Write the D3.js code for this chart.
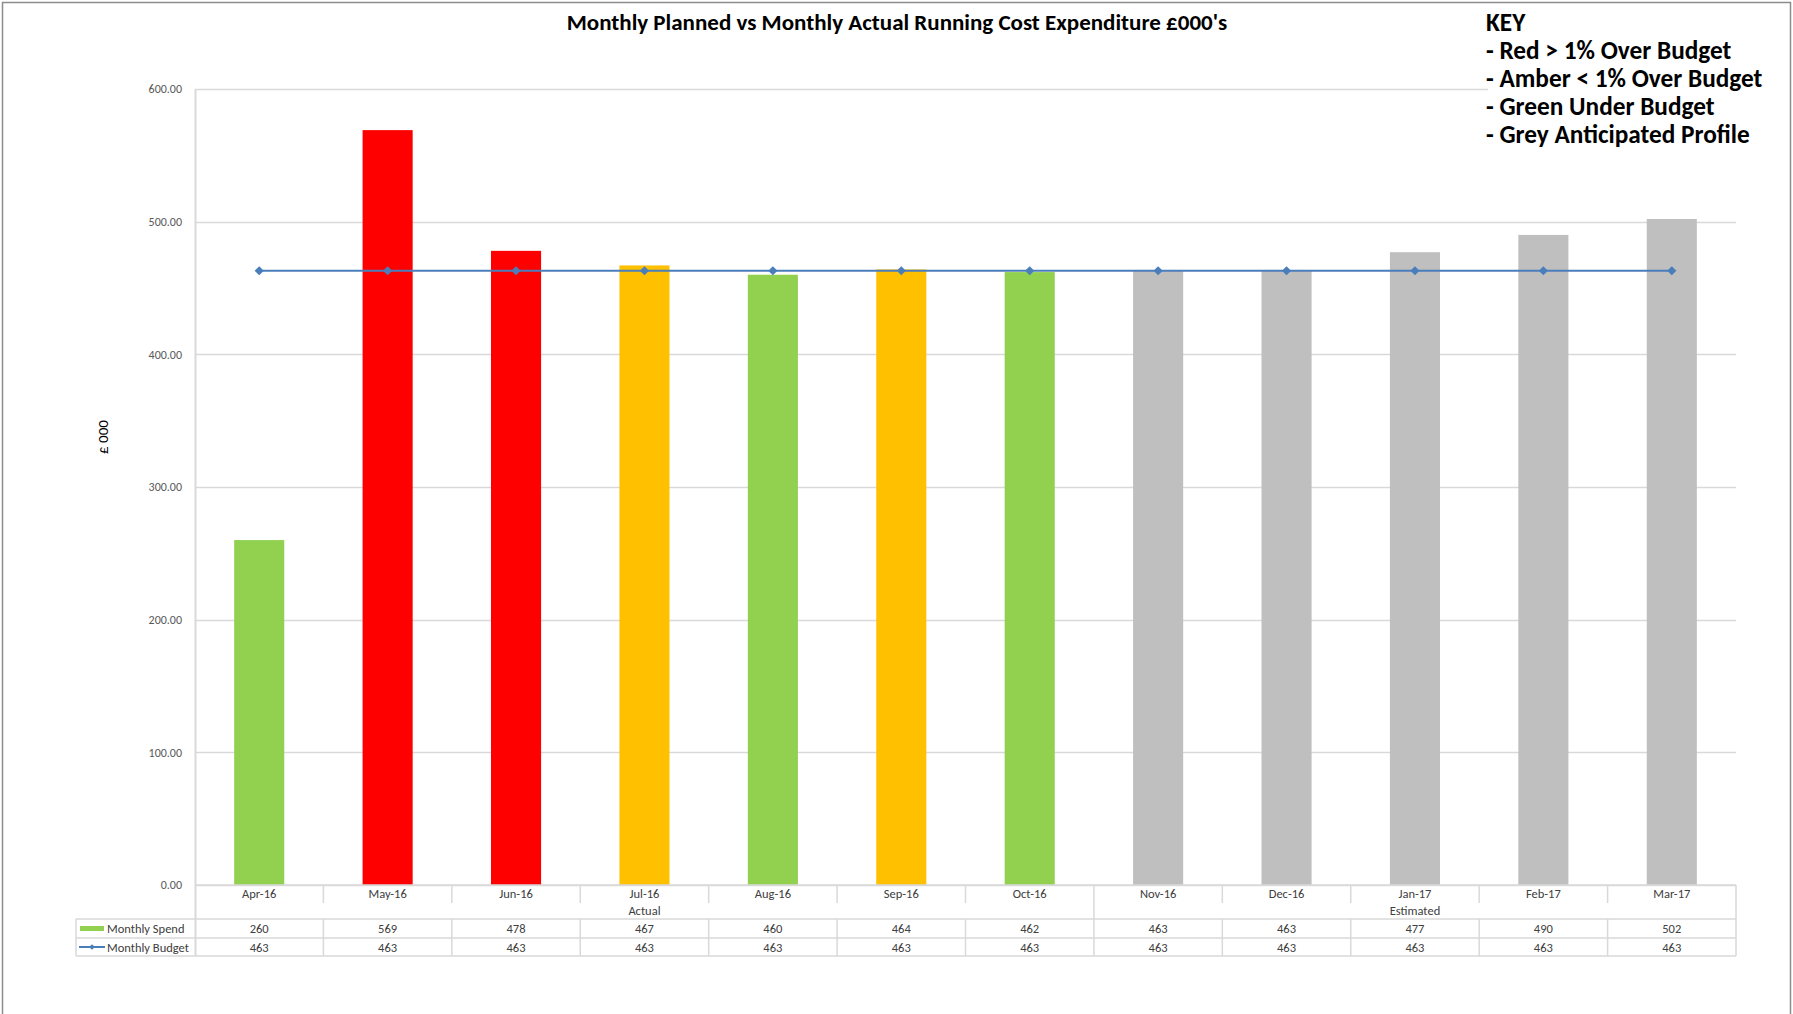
<!DOCTYPE html>
<html>
<head>
<meta charset="utf-8">
<script src="https://cdn.jsdelivr.net/npm/d3@7"></script>
<style>
	body { margin: 0; background: #fff; }
	svg { display: block; font-family: Carlito, Lato, "Open Sans", sans-serif; }
	.tick-label { font-size: 12px; fill: #595959; }
	.cell { font-size: 12.5px; fill: #404040; }
</style>
</head>
<body>
<div class="chart"></div>
<script>

const months = ['Apr-16', 'May-16', 'Jun-16', 'Jul-16', 'Aug-16', 'Sep-16', 'Oct-16', 'Nov-16', 'Dec-16', 'Jan-17', 'Feb-17', 'Mar-17'];
const periods = ['Actual', 'Actual', 'Actual', 'Actual', 'Actual', 'Actual', 'Actual', 'Estimated', 'Estimated', 'Estimated', 'Estimated', 'Estimated'];
const monthlySpend = [260, 569, 478, 467, 460, 464, 462, 463, 463, 477, 490, 502];
const monthlyBudget = [463, 463, 463, 463, 463, 463, 463, 463, 463, 463, 463, 463];
const spendStatus = ['green', 'red', 'red', 'amber', 'green', 'amber', 'green', 'grey', 'grey', 'grey', 'grey', 'grey'];
const yTicks = [0, 100, 200, 300, 400, 500, 600];
const keyLines = ['KEY', '- Red > 1% Over Budget', '- Amber < 1% Over Budget', '- Green Under Budget', '- Grey Anticipated Profile'];

const statusColour = { green: '#92d050', red: '#ff0000', amber: '#ffc000', grey: '#bfbfbf' };
const lineColour = '#4a7ebb';
const gridColour = '#d9d9d9';

const width = 1793;
const height = 1014;
const plotLeft = 195, plotRight = 1736, plotTop = 89, plotBottom = 885;
const tableLeft = 76;
const rowTop = 919, rowMid = 938, rowBottom = 956;

const svg = d3.select('.chart').append('svg')
	.attr('width', width)
	.attr('height', height);

// frame round the picture
svg.append('path')
	.attr('d', `M2.5,${height} V2.5 H1790.5 V${height}`)
	.attr('fill', 'none')
	.attr('stroke', '#8c8c8c')
	.attr('stroke-width', 1.5);

const x = d3.scaleBand()
	.domain(months)
	.range([plotLeft, plotRight])
	.paddingInner(0.61)
	.paddingOuter(0.305);

const step = x.step();
const colStart = function(i) { return plotLeft + i * step; };
const colMid = function(m) { return x(m) + x.bandwidth() / 2; };

const y = d3.scaleLinear()
	.domain([0, 600])
	.range([plotBottom, plotTop]);

// gridlines
svg.selectAll('.grid')
	.data(yTicks)
	.enter()
	.append('line')
	.attr('x1', plotLeft)
	.attr('x2', plotRight)
	.attr('y1', d => Math.round(y(d)) + 0.5)
	.attr('y2', d => Math.round(y(d)) + 0.5)
	.attr('stroke', gridColour)
	.attr('stroke-width', 1.5);

// y axis (labels only, Excel style)
const yAxis = d3.axisLeft(y)
	.tickValues(yTicks)
	.tickSize(0)
	.tickPadding(13)
	.tickFormat(d3.format('.2f'));

const yAxisG = svg.append('g')
	.attr('transform', `translate(${plotLeft},0)`)
	.call(yAxis);
yAxisG.select('.domain').remove();
yAxisG.attr('font-family', null).attr('font-size', null);
yAxisG.selectAll('text')
	.attr('class', 'tick-label')
	.attr('fill', null);

svg.append('line')
	.attr('x1', plotLeft + 0.5).attr('x2', plotLeft + 0.5)
	.attr('y1', plotTop).attr('y2', rowBottom)
	.attr('stroke', gridColour)
	.attr('stroke-width', 2);

svg.append('text')
	.text('£ 000')
	.attr('transform', 'translate(108,437) rotate(-90)')
	.attr('text-anchor', 'middle')
	.attr('font-size', 15)
	.attr('fill', '#000');

// bars
svg.selectAll('.bars')
	.data(months)
	.enter()
	.append('rect')
	.attr('x', d => x(d))
	.attr('width', x.bandwidth())
	.attr('y', (d, i) => y(monthlySpend[i]))
	.attr('height', (d, i) => plotBottom - y(monthlySpend[i]))
	.attr('fill', (d, i) => statusColour[spendStatus[i]])
	.attr('class', 'bars');

// budget line
const line = d3.line()
	.x(d => colMid(d[0]))
	.y(d => y(d[1]));

const budgetPoints = months.map((m, i) => [m, monthlyBudget[i]]);

svg.append('path')
	.datum(budgetPoints)
	.attr('d', line)
	.attr('fill', 'none')
	.attr('stroke', lineColour)
	.attr('stroke-width', 2);

// Excel diamond markers: a square turned 45 degrees
svg.selectAll('.markers')
	.data(budgetPoints)
	.enter()
	.append('path')
	.attr('d', d3.symbol(d3.symbolSquare, 42))
	.attr('transform', d => `translate(${colMid(d[0])},${y(d[1])}) rotate(45)`)
	.attr('fill', lineColour)
	.attr('class', 'markers');

// data table under the axis
const tbl = svg.append('g').attr('stroke', gridColour).attr('stroke-width', 1.5);

tbl.append('line').attr('x1', plotLeft).attr('x2', plotRight).attr('y1', plotBottom).attr('y2', plotBottom);
tbl.append('line').attr('x1', tableLeft).attr('x2', plotRight).attr('y1', rowTop).attr('y2', rowTop);
tbl.append('line').attr('x1', tableLeft).attr('x2', plotRight).attr('y1', rowMid).attr('y2', rowMid);
tbl.append('line').attr('x1', tableLeft).attr('x2', plotRight).attr('y1', rowBottom).attr('y2', rowBottom);
tbl.append('line').attr('x1', tableLeft).attr('x2', tableLeft).attr('y1', rowTop).attr('y2', rowBottom);
tbl.append('line').attr('x1', plotRight).attr('x2', plotRight).attr('y1', plotBottom).attr('y2', rowBottom);

// month separators: short in header, full where the period changes
tbl.selectAll('.sep')
	.data(d3.range(1, months.length))
	.enter()
	.append('line')
	.attr('x1', i => colStart(i)).attr('x2', i => colStart(i))
	.attr('y1', plotBottom)
	.attr('y2', i => periods[i] !== periods[i - 1] ? rowTop : 903)
	.attr('class', 'sep');

tbl.selectAll('.sep2')
	.data(d3.range(1, months.length))
	.enter()
	.append('line')
	.attr('x1', i => colStart(i)).attr('x2', i => colStart(i))
	.attr('y1', rowTop)
	.attr('y2', rowBottom)
	.attr('class', 'sep2');

svg.selectAll('.month-label')
	.data(months)
	.enter()
	.append('text')
	.text(d => d)
	.attr('x', d => colMid(d))
	.attr('y', 897.5)
	.attr('text-anchor', 'middle')
	.attr('class', 'cell month-label');

const periodNames = Array.from(new Set(periods));
svg.selectAll('.period-label')
	.data(periodNames)
	.enter()
	.append('text')
	.text(d => d)
	.attr('x', d => {
		const first = periods.indexOf(d);
		const last = periods.lastIndexOf(d);
		return (colStart(first) + colStart(last + 1)) / 2;
	})
	.attr('y', 914.5)
	.attr('text-anchor', 'middle')
	.attr('class', 'cell period-label');

svg.selectAll('.spend-val')
	.data(monthlySpend)
	.enter()
	.append('text')
	.text(d => d)
	.attr('x', (d, i) => colMid(months[i]))
	.attr('y', 933)
	.attr('text-anchor', 'middle')
	.attr('class', 'cell spend-val');

svg.selectAll('.budget-val')
	.data(monthlyBudget)
	.enter()
	.append('text')
	.text(d => d)
	.attr('x', (d, i) => colMid(months[i]))
	.attr('y', 951.5)
	.attr('text-anchor', 'middle')
	.attr('class', 'cell budget-val');

// legend keys in the table
svg.append('rect')
	.attr('x', 80).attr('y', 926)
	.attr('width', 24).attr('height', 5)
	.attr('fill', statusColour.green);
svg.append('text')
	.text('Monthly Spend')
	.attr('x', 107).attr('y', 933)
	.attr('class', 'cell');

svg.append('line')
	.attr('x1', 79).attr('x2', 105)
	.attr('y1', 947).attr('y2', 947)
	.attr('stroke', lineColour)
	.attr('stroke-width', 2);
svg.append('path')
	.attr('d', d3.symbol(d3.symbolSquare, 16))
	.attr('transform', 'translate(92,947) rotate(45)')
	.attr('fill', lineColour);
svg.append('text')
	.text('Monthly Budget')
	.attr('x', 107).attr('y', 951.5)
	.attr('class', 'cell');

// title
svg.append('text')
	.text("Monthly Planned vs Monthly Actual Running Cost Expenditure £000's")
	.attr('x', 897)
	.attr('y', 30)
	.attr('text-anchor', 'middle')
	.attr('font-size', 23)
	.attr('font-weight', 'bold')
	.attr('fill', '#000');

// key box
svg.append('rect')
	.attr('x', 1488).attr('y', 4)
	.attr('width', 301).attr('height', 146)
	.attr('fill', '#fff');

svg.selectAll('.key')
	.data(keyLines)
	.enter()
	.append('text')
	.text(d => d)
	.attr('x', 1486)
	.attr('y', (d, i) => 31 + i * 28)
	.attr('font-size', 25.3)
	.attr('font-weight', 'bold')
	.attr('fill', '#000')
	.attr('class', 'key');

</script>
</body>
</html>
